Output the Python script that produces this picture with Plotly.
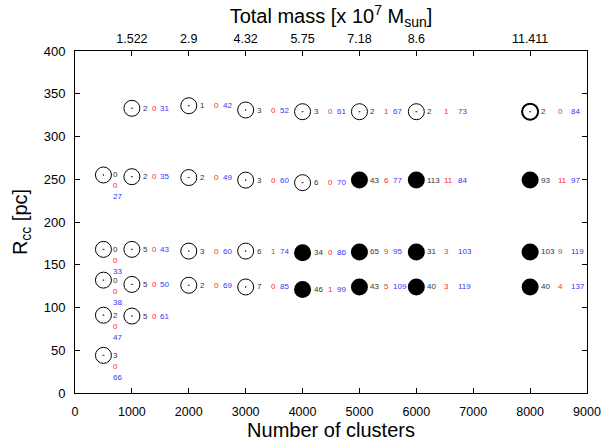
import plotly.graph_objects as go

# Cluster-complex runs: number of clusters vs. initial Rcc
n_clusters = [500, 500, 500, 500, 500,
              1000, 1000, 1000, 1000, 1000,
              2000, 2000, 2000, 2000,
              3000, 3000, 3000, 3000,
              4000, 4000, 4000, 4000,
              5000, 5000, 5000, 5000,
              6000, 6000, 6000, 6000,
              8000, 8000, 8000, 8000]
r_cc = [255, 168, 132, 91, 44,
        333, 253, 168, 127, 90,
        336, 252, 166, 126,
        331, 249, 166, 124,
        329, 246, 164, 121,
        329, 249, 165, 124,
        329, 249, 165, 124,
        329, 249, 165, 124]
merged = [False, False, False, False, False,
          False, False, False, False, False,
          False, False, False, False,
          False, False, False, False,
          False, False, True, True,
          False, True, True, True,
          False, True, True, True,
          False, True, True, True]
count_black = [0, 0, 0, 2, 3,
               2, 2, 5, 5, 5,
               1, 2, 3, 2,
               3, 3, 6, 7,
               3, 6, 34, 46,
               2, 43, 65, 43,
               2, 113, 31, 40,
               2, 93, 103, 40]
count_red = [0, 0, 0, 0, 0,
             0, 0, 0, 0, 0,
             0, 0, 0, 0,
             0, 0, 1, 0,
             0, 0, 0, 1,
             1, 6, 9, 5,
             1, 11, 3, 3,
             0, 11, 9, 4]
count_blue = [27, 33, 38, 47, 66,
              31, 35, 43, 50, 61,
              42, 49, 60, 69,
              52, 60, 74, 85,
              61, 70, 86, 99,
              67, 77, 95, 109,
              73, 84, 103, 119,
              84, 97, 119, 137]

# Top axis: total mass for each cluster count
mass_ticks = [1000, 2000, 3000, 4000, 5000, 6000, 8000]
mass_labels = ["1.522", "2.9", "4.32", "5.75", "7.18", "8.6", "11.411"]

FONT = "Liberation Sans, Arial, sans-serif"
BLACK_TXT = "#333333"
RED_TXT = "#ff2a2a"
BLUE_TXT = "#3535ff"

# label pixel offsets (black, red, blue) from the marker centre, per column
row_offsets = {1000: (11, 20, 28), 2000: (11, 25, 34), 3000: (11, 25, 34),
               4000: (11, 25, 34), 5000: (11, 25, 34), 6000: (11, 28, 42),
               8000: (11, 28, 41)}

fig = go.Figure()

open_x = [n for n, m in zip(n_clusters, merged) if not m]
open_y = [r for r, m in zip(r_cc, merged) if not m]
fig.add_trace(go.Scatter(
    x=open_x, y=open_y, mode="markers",
    marker=dict(symbol="circle-open-dot", size=16, color="black",
                line=dict(width=1, color="black")),
    showlegend=False, hoverinfo="skip"))

# heavier outline on the largest open run
heavy_x = [n for n in open_x if n == max(open_x)]
heavy_y = [r for n, r in zip(open_x, open_y) if n == max(open_x)]
fig.add_trace(go.Scatter(
    x=heavy_x, y=heavy_y, mode="markers",
    marker=dict(symbol="circle-open", size=16, color="black",
                line=dict(width=2, color="black")),
    showlegend=False, hoverinfo="skip"))

fill_x = [n for n, m in zip(n_clusters, merged) if m]
fill_y = [r for r, m in zip(r_cc, merged) if m]
fig.add_trace(go.Scatter(
    x=fill_x, y=fill_y, mode="markers",
    marker=dict(symbol="circle", size=17, color="black",
                line=dict(width=0)),
    showlegend=False, hoverinfo="skip"))

# invisible trace to activate the top axis
fig.add_trace(go.Scatter(x=[0, 9000], y=[0, 0], xaxis="x2", mode="markers",
                         marker=dict(opacity=0), showlegend=False,
                         hoverinfo="skip"))

annotations = []
for n, r, b, rd, bl in zip(n_clusters, r_cc, count_black, count_red, count_blue):
    if n == 500:
        placements = [(b, BLACK_TXT, 10, 0), (rd, RED_TXT, 10, -11),
                      (bl, BLUE_TXT, 10, -22)]
    else:
        ob, orr, obl = row_offsets[n]
        placements = [(b, BLACK_TXT, ob, 0), (rd, RED_TXT, orr, 0),
                      (bl, BLUE_TXT, obl, 0)]
    for val, col, dx, dy in placements:
        annotations.append(dict(
            x=n, y=r, xref="x", yref="y", text=str(val), showarrow=False,
            xanchor="left", yanchor="middle", xshift=dx, yshift=dy,
            borderpad=0, borderwidth=0,
            font=dict(family=FONT, size=8, color=col)))

fig.update_layout(
    width=604, height=441,
    margin=dict(l=75, r=17, t=51, b=48),
    paper_bgcolor="white", plot_bgcolor="white",
    font=dict(family=FONT, color="black"),
    annotations=annotations,
    xaxis=dict(
        range=[0, 9000], dtick=1000, tick0=0, automargin=False,
        showgrid=False, zeroline=False,
        showline=True, linecolor="black", linewidth=1, mirror=True,
        ticks="inside", ticklen=5, tickcolor="black",
        tickfont=dict(size=12.5), ticklabelstandoff=7,
        title=dict(text="Number of clusters", font=dict(size=20), standoff=6)),
    xaxis2=dict(
        range=[0, 9000], overlaying="x", side="top", automargin=False,
        tickmode="array", tickvals=mass_ticks, ticktext=mass_labels,
        minor=dict(dtick=1000, tick0=0, ticks="inside", ticklen=5,
                   tickcolor="black"),
        showgrid=False, zeroline=False, showline=False,
        ticks="inside", ticklen=5, tickcolor="black",
        tickfont=dict(size=12.5), ticklabelstandoff=5,
        title=dict(text="Total mass [x 10<sup>7</sup> M<sub>sun</sub>]",
                   font=dict(size=20), standoff=2)),
    yaxis=dict(
        range=[0, 400], dtick=50, tick0=0, automargin=False,
        showgrid=False, zeroline=False,
        showline=True, linecolor="black", linewidth=1, mirror="ticks",
        ticks="inside", ticklen=5, tickcolor="black",
        tickfont=dict(size=13), ticklabelstandoff=6,
        title=dict(text="R<sub>cc</sub> [pc]", font=dict(size=20), standoff=10)),
)

fig.write_html("out.html")
